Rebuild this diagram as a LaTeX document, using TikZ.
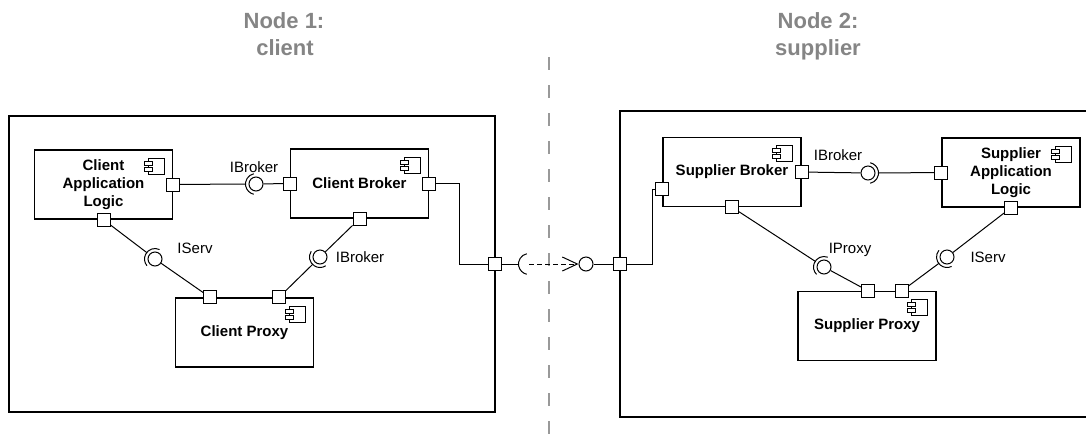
\documentclass[tikz,border=0pt]{standalone}
\usepackage{fontspec}
\setmainfont{Liberation Sans}
\usetikzlibrary{calc,arrows.meta}
\definecolor{titlegray}{HTML}{858585}
\definecolor{sepgray}{HTML}{999999}
\newcommand\sockarc[3]{% center, direction, radius
  \pgfmathsetmacro\sockA{#2-78}\pgfmathsetmacro\sockB{#2+78}%
  \draw[wire] ($(#1)+(\sockA:#3)$) arc[start angle=\sockA, end angle=\sockB, radius=#3];}
\begin{document}
\begin{tikzpicture}[x=1pt,y=-1pt,
  hostbox/.style={draw, line width=1.4pt, inner sep=0pt},
  comp/.style={draw, line width=1.4pt, fill=white, minimum width=138pt, minimum height=69pt,
    align=center, inner sep=0pt, font=\bfseries\fontsize{15}{18}\selectfont},
  port/.style={draw, fill=white, line width=0.9pt, minimum size=13pt, inner sep=0pt},
  ball/.style={draw, circle, fill=white, line width=1pt, minimum size=14pt, inner sep=0pt},
  wire/.style={line width=1pt},
  lbl/.style={font=\fontsize{15}{18}\selectfont, anchor=base, inner sep=0pt},
  ttl/.style={font=\bfseries\fontsize{22}{26}\selectfont, text=titlegray, anchor=base, inner sep=0pt},
  compicon/.pic={
    \draw[line width=0.9pt, fill=white] (-25pt,-9pt) rectangle (-9pt,-25pt);
    \draw[line width=0.9pt, fill=white] (-29pt,-12pt) rectangle (-21pt,-16pt);
    \draw[line width=0.9pt, fill=white] (-29pt,-18pt) rectangle (-21pt,-22pt);
  }]
\useasboundingbox (0,0) rectangle (1086,445);

% titles
\node[ttl] (t1a) at (284,28) {Node 1:};
\node[ttl] (t1b) at (285,55) {client};
\node[ttl] (t2a) at (818,28) {Node 2:};
\node[ttl] (t2b) at (818,55) {supplier};

% separator
\coordinate (septop) at (549,57);
\coordinate (sepbot) at (549,445);
\draw[sepgray, line width=2pt, dash pattern=on 13pt off 15pt] (septop) -- (sepbot);

% deployment nodes
\node[hostbox, minimum width=486pt, minimum height=296pt] (n1) at (252,264) {};
\node[hostbox, minimum width=500pt, minimum height=306pt] (n2) at (870,264) {};

% components
\node[comp] (cal) at (103.5,184.5) {Client\\Application\\Logic};
\node[comp] (cb) at (359.5,183.5) {Client Broker};
\node[comp] (cp) at (244.5,332.5) {Client Proxy};
\node[comp] (sb) at (732,172) {Supplier Broker};
\node[comp] (sal) at (1011,172.5) {Supplier\\Application\\Logic};
\node[comp] (sp) at (867,326) {Supplier Proxy};
\foreach \c in {cal,cb,cp,sb,sal,sp} { \pic at (\c.north east) {compicon}; }

% ports
\node[port] (calR) at (cal.east) {};
\node[port] (calB) at (cal.south) {};
\node[port] (cbL) at (cb.west) {};
\node[port] (cbR) at (cb.east) {};
\node[port] (cbB) at (cb.south) {};
\node[port] (cpP1) at ($(cp.north)+(-34.5pt,0pt)$) {};
\node[port] (cpP2) at ($(cp.north)+(34.5pt,0pt)$) {};
\node[port] (n1p) at (495,264) {};
\node[port] (n2p) at (620,264) {};
\node[port] (sbL) at ($(sb.west)+(0pt,-17pt)$) {};
\node[port] (sbR) at (sb.east) {};
\node[port] (sbB) at (sb.south) {};
\node[port] (salL) at (sal.west) {};
\node[port] (salB) at (sal.south) {};
\node[port] (spP1) at ($(sp.north)+(1pt,0pt)$) {};
\node[port] (spP2) at ($(sp.north)+(35pt,0pt)$) {};

% provided interfaces (balls)
\node[ball] (ib1) at (256,184) {};
\node[ball] (is1) at (155,259) {};
\node[ball] (ib2) at (320,257) {};
\node[ball] (xb) at (586,264) {};
\node[ball] (sib) at (868,173) {};
\node[ball] (sip) at (824,267) {};
\node[ball] (sis) at (947,257) {};
\coordinate (xs) at (529,264);

% connectors: client side
\draw[wire] (calR) -- ($(ib1.center)+(180:10.5pt)$);
\draw[wire] (ib1) -- (cbL);
\sockarc{ib1.center}{180}{10.5pt}
\draw[wire] (calB) -- ($(is1.center)+(142:10.5pt)$);
\draw[wire] (is1) -- (cpP1);
\sockarc{is1.center}{142}{10.5pt}
\draw[wire] (cpP2) -- ($(ib2.center)+(225:10.5pt)$);
\draw[wire] (ib2) -- (cbB);
\sockarc{ib2.center}{225}{10.5pt}

% cross-node connection
\draw[wire] (cbR.east) -- ++(23,0) |- (n1p.west);
\draw[wire] (n1p) -- ($(xs)+(180:10.5pt)$);
\sockarc{xs}{180}{10.5pt}
\draw[wire, dash pattern=on 5pt off 3pt, -{Straight Barb[length=15pt,width=14pt,line width=1pt]}] (xs) -- (xb.west);
\draw[wire] (xb) -- (n2p);
\draw[wire] (n2p.east) -- ++(26,0) |- (sbL.west);

% connectors: supplier side
\draw[wire] (sbR) -- (sib);
\draw[wire] (salL) -- ($(sib.center)+(0:10.5pt)$);
\sockarc{sib.center}{0}{10.5pt}
\draw[wire] (sbB) -- ($(sip.center)+(147:10.5pt)$);
\draw[wire] (sip) -- (spP1);
\sockarc{sip.center}{147}{10.5pt}
\draw[wire] (salB) -- (sis);
\draw[wire] (spP2) -- ($(sis.center)+(218:10.5pt)$);
\sockarc{sis.center}{218}{10.5pt}

% interface labels
\node[lbl] (lib1) at (254,172.5) {IBroker};
\node[lbl] (lis1) at (195,253.5) {IServ};
\node[lbl] (lib2) at (360,262.5) {IBroker};
\node[lbl] (lib3) at (838,160.5) {IBroker};
\node[lbl] (lip) at (850,253.5) {IProxy};
\node[lbl] (lis2) at (988,262.5) {IServ};
\end{tikzpicture}
\end{document}
